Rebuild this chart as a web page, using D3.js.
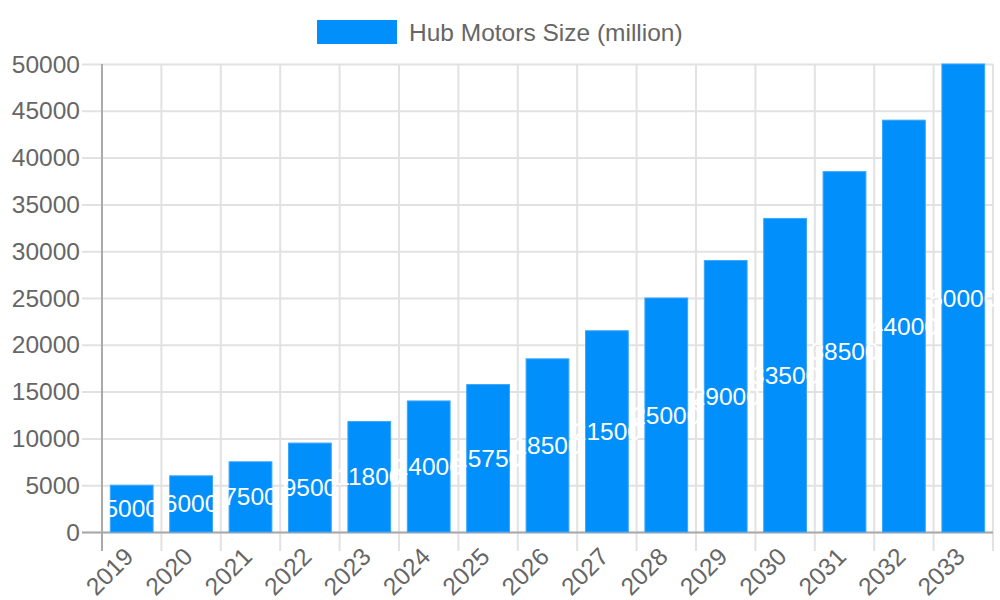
<!DOCTYPE html>
<html>
<head>
<meta charset="utf-8">
<script src="https://cdn.jsdelivr.net/npm/d3@7"></script>
<style>
  body { margin: 0; background: #fff; }
  text { font-family: "Liberation Sans", Arial, sans-serif; }
</style>
</head>
<body>
<svg id="chart" width="1000" height="600"></svg>
<script>
const years = ['2019', '2020', '2021', '2022', '2023', '2024', '2025', '2026', '2027', '2028', '2029', '2030', '2031', '2032', '2033'];
const sizes = [5000, 6000, 7500, 9500, 11800, 14000, 15750, 18500, 21500, 25000, 29000, 33500, 38500, 44000, 50000];
const yTicks = [0, 5000, 10000, 15000, 20000, 25000, 30000, 35000, 40000, 45000, 50000];
const seriesName = 'Hub Motors Size (million)';

const width = 1000, height = 600;
const margin = { top: 64, right: 7, bottom: 68, left: 102 };
const barColor = '#008ffb';
const fontSize = 24.5;

const svg = d3.select('#chart');

const x = d3.scaleBand()
  .domain(years)
  .range([margin.left, width - margin.right]);

const y = d3.scaleLinear()
  .domain([0, 50000])
  .range([height - margin.bottom, margin.top]);

// Horizontal grid + ticks
const grid = svg.append('g');
grid.selectAll('.hgrid')
  .data(yTicks)
  .enter()
  .append('line')
  .attr('x1', margin.left - 20)
  .attr('x2', width - margin.right)
  .attr('y1', d => y(d) + 0.5)
  .attr('y2', d => y(d) + 0.5)
  .attr('stroke', '#e2e2e2')
  .attr('stroke-width', 2);

// Vertical grid at category boundaries
const bounds = years.map(d => x(d)).concat([width - margin.right]);
grid.selectAll('.vgrid')
  .data(bounds)
  .enter()
  .append('line')
  .attr('x1', d => d)
  .attr('x2', d => d)
  .attr('y1', margin.top)
  .attr('y2', height - margin.bottom + 19)
  .attr('stroke', (d, i) => i === 0 ? '#aaa' : '#e2e2e2')
  .attr('stroke-width', 2);

// Zero line on top
grid.append('line')
  .attr('x1', margin.left - 20)
  .attr('x2', width - margin.right)
  .attr('y1', y(0) + 0.5)
  .attr('y2', y(0) + 0.5)
  .attr('stroke', '#aaa')
  .attr('stroke-width', 2);

// Y tick labels
svg.append('g').selectAll('text')
  .data(yTicks)
  .enter()
  .append('text')
  .attr('x', margin.left - 22)
  .attr('y', d => y(d))
  .attr('dy', '0.35em')
  .attr('text-anchor', 'end')
  .attr('fill', '#666')
  .attr('font-size', fontSize)
  .text(d => d);

// X tick labels
svg.append('g').selectAll('text')
  .data(years)
  .enter()
  .append('text')
  .attr('text-anchor', 'end')
  .attr('fill', '#666')
  .attr('font-size', fontSize)
  .attr('transform', d => `translate(${x(d) + x.bandwidth() / 2 - 9},${height - margin.bottom + 14}) rotate(-45)`)
  .attr('dy', '0.7em')
  .text(d => d);

// Bars
const barW = x.bandwidth() * 0.72;
svg.append('g').selectAll('rect')
  .data(sizes)
  .enter()
  .append('rect')
  .attr('x', (d, i) => x(years[i]) + (x.bandwidth() - barW) / 2)
  .attr('y', d => y(d))
  .attr('width', barW)
  .attr('height', d => y(0) - y(d))
  .attr('fill', barColor)
  .attr('stroke', '#3aa6fb')
  .attr('stroke-width', 1);

// Value labels
svg.append('g').selectAll('text')
  .data(sizes)
  .enter()
  .append('text')
  .attr('x', (d, i) => x(years[i]) + x.bandwidth() / 2)
  .attr('y', d => (y(d) + y(0)) / 2)
  .attr('dy', '0.35em')
  .attr('text-anchor', 'middle')
  .attr('fill', '#fff')
  .attr('font-size', fontSize)
  .text(d => d);

// Legend
const legend = svg.append('g');
legend.append('rect')
  .attr('x', 317)
  .attr('y', 20)
  .attr('width', 80)
  .attr('height', 24)
  .attr('fill', barColor);
legend.append('text')
  .attr('x', 409)
  .attr('y', 32)
  .attr('dy', '0.35em')
  .attr('fill', '#666')
  .attr('font-size', fontSize)
  .text(seriesName);
</script>
</body>
</html>
